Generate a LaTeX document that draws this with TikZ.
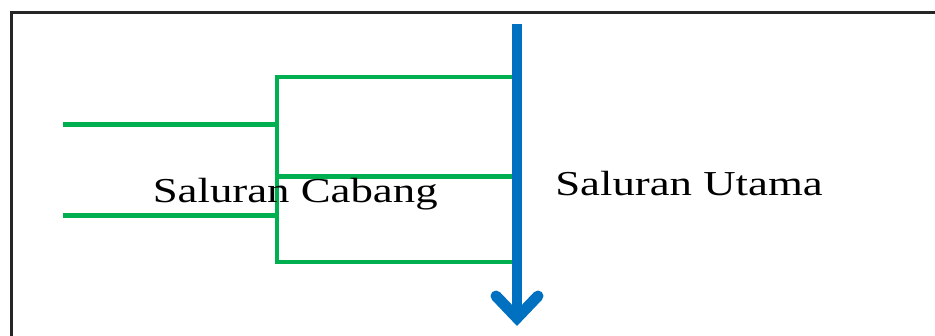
\documentclass[tikz,border=0pt]{standalone}
\usepackage{fontspec}
\setmainfont{Liberation Serif}
\definecolor{branchgreen}{RGB}{0,176,80}
\definecolor{mainblue}{RGB}{0,112,192}
\begin{document}
\begin{tikzpicture}[x=1pt,y=-1pt,
  branch/.style={draw=branchgreen,line width=4.8pt},
  mainline/.style={draw=mainblue,line width=10pt},
  label/.style={inner sep=0pt,anchor=base west,xscale=1.28,font=\fontsize{35}{40}\selectfont},
  frame/.style={draw=black!85,line width=3pt}]
\useasboundingbox (0,0) rectangle (935,335);
\draw[frame] (11,12) rectangle (950,350);
% coordinates
\coordinate (mtop) at (517,24);
\coordinate (mtip) at (517,318);
\coordinate (hl) at (496,296);
\coordinate (hr) at (538,296);
\coordinate (j1) at (277,77);
\coordinate (j2) at (277,262);
\coordinate (j3) at (277,176.5);
\coordinate (e1) at (517,77);
\coordinate (e2) at (517,262);
\coordinate (e3) at (517,176.5);
\coordinate (b1s) at (63,124.5);
\coordinate (b1e) at (277,124.5);
\coordinate (b2s) at (63,215.5);
\coordinate (b2e) at (277,215.5);
% green branch lines
\draw[branch] (e1) -- (j1) -- (j2) -- (e2);
\draw[branch] (j3) -- (e3);
\draw[branch] (b1s) -- (b1e);
\draw[branch] (b2s) -- (b2e);
% main line with arrow
\draw[mainline] (mtop) -- (mtip);
\draw[mainline,line width=11pt,line cap=round,line join=miter] (hl) -- (mtip) -- (hr);
% labels
\node[label] (cabang) at (152.5,202.7) {Saluran Cabang};
\node[label] (utama) at (555,195) {Saluran Utama};
\end{tikzpicture}
\end{document}
